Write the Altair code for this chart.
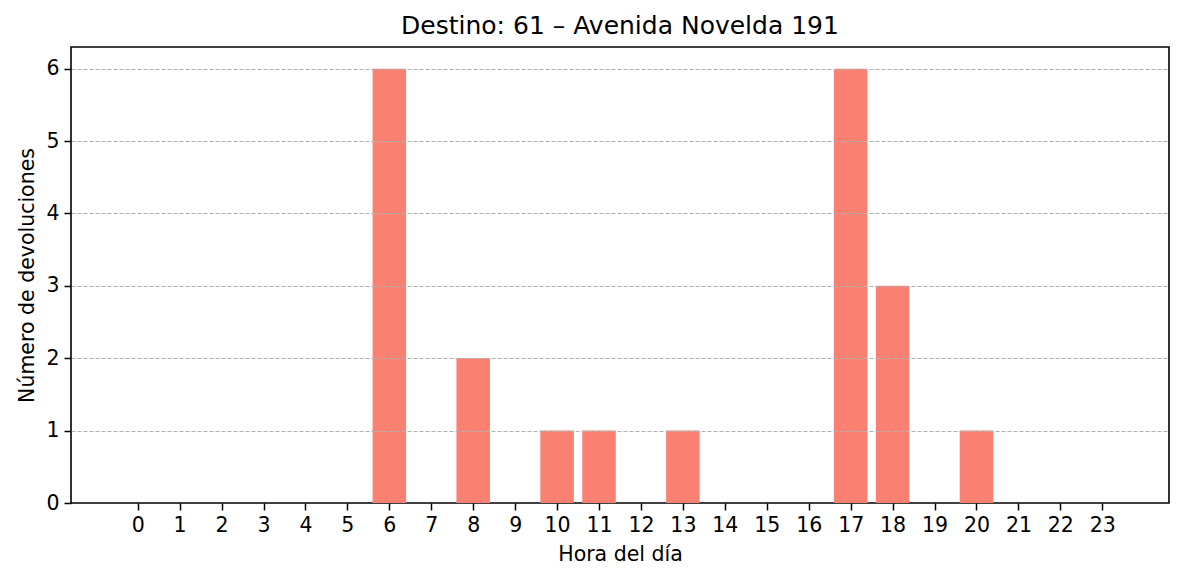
import altair as alt
import pandas as pd

hours = list(range(24))
counts = [0, 0, 0, 0, 0, 0, 6, 0, 2, 0, 1, 1, 0, 1, 0, 0, 0, 6, 3, 0, 1, 0, 0, 0]
y_ticks = [0, 1, 2, 3, 4, 5, 6]

df = pd.DataFrame({"hora": hours, "n": counts})
df["x0"] = df["hora"] - 0.4
df["x1"] = df["hora"] + 0.4

FONT = "DejaVu Sans"

bars = alt.Chart(df).mark_rect(color="#FA8072").encode(
    x=alt.X(
        "x0:Q",
        scale=alt.Scale(domain=[-1.59, 24.59], nice=False, zero=False),
        axis=alt.Axis(
            values=hours,
            format="d",
            title="Hora del día",
            grid=False,
            domain=False,
            tickColor="black",
            tickWidth=1.5,
            tickSize=7,
            labelPadding=5,
            labelFontSize=20.5,
            labelFont=FONT,
            labelColor="black",
            titleFont=FONT,
            titleFontSize=20.5,
            titleFontWeight="normal",
            titleColor="black",
            titlePadding=9,
            labelFlush=False,
        ),
    ),
    x2="x1:Q",
    y=alt.Y(
        "n:Q",
        scale=alt.Scale(domain=[0, 6.3], nice=False),
        axis=alt.Axis(
            values=y_ticks,
            format="d",
            title="Número de devoluciones",
            grid=True,
            gridColor="#b0b0b0",
            gridDash=[4, 2],
            gridWidth=1,
            gridOpacity={"condition": {"test": "datum.value == 0", "value": 0}, "value": 1},
            domain=False,
            tickColor="black",
            tickWidth=1.5,
            tickSize=7,
            labelPadding=5,
            labelFontSize=20.5,
            labelFont=FONT,
            labelColor="black",
            titleFont=FONT,
            titleFontSize=20.5,
            titleFontWeight="normal",
            titleColor="black",
            titlePadding=8,
            zindex=1,
            labelFlush=False,
        ),
    ),
    y2=alt.datum(0),
)

chart = bars.properties(
    width=1098,
    height=456,
    background="white",
    title=alt.TitleParams(
        "Destino: 61 – Avenida Novelda 191",
        font=FONT,
        fontSize=25,
        fontWeight="normal",
        color="black",
        anchor="middle",
        offset=8,
    ),
    autosize=alt.AutoSizeParams(type="none"),
    padding={"left": 71, "top": 47, "right": 15, "bottom": 78},
).configure_view(
    stroke="black",
    strokeWidth=1.6,
)

chart.save("out.html", embed_options={"renderer": "svg", "actions": False})
